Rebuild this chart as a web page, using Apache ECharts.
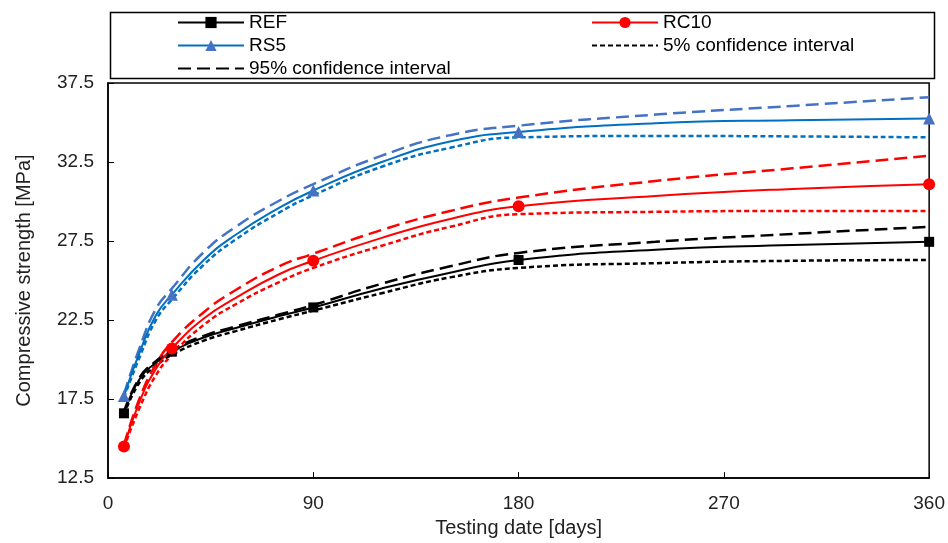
<!DOCTYPE html>
<html>
<head>
<meta charset="utf-8">
<script src="https://cdn.jsdelivr.net/npm/echarts@6/dist/echarts.min.js"></script>
<style>
html,body{margin:0;padding:0;background:#fff;}
#chart{width:948px;height:543px;}
</style>
</head>
<body>
<div id="chart"></div>
<script>
// ---- data ----
const days = [7, 14, 21, 28, 42, 56, 75, 90, 120, 150, 180, 240, 300, 360];
const testDays = [7, 28, 90, 180, 360];

const refMean = [16.6, 18.8, 19.8, 20.5, 21.4, 22.0, 22.75, 23.3, 24.5, 25.5, 26.3, 26.95, 27.25, 27.45];
const ref95   = [16.7, 18.9, 19.9, 20.6, 21.5, 22.1, 22.85, 23.45, 24.8, 25.9, 26.75, 27.45, 27.95, 28.4];
const ref5    = [16.5, 18.6, 19.6, 20.3, 21.2, 21.8, 22.55, 23.1, 24.2, 25.2, 25.8, 26.1, 26.25, 26.3];

const rc10Mean = [14.5, 17.4, 19.4, 20.7, 22.6, 23.9, 25.4, 26.25, 27.7, 28.9, 29.7, 30.35, 30.8, 31.1];
const rc1095   = [14.6, 17.6, 19.7, 21.1, 23.0, 24.4, 25.9, 26.7, 28.2, 29.4, 30.25, 31.3, 32.1, 32.9];
const rc105    = [14.4, 17.0, 19.0, 20.3, 22.2, 23.5, 24.9, 25.8, 27.2, 28.4, 29.2, 29.35, 29.4, 29.4];

const rs5Mean = [17.7, 20.5, 22.8, 24.1, 26.3, 27.9, 29.6, 30.7, 32.5, 33.8, 34.4, 34.95, 35.15, 35.25];
const rs595   = [17.8, 20.8, 23.2, 24.5, 26.8, 28.4, 30.05, 31.1, 32.9, 34.2, 34.8, 35.5, 36.05, 36.6];
const rs55    = [17.6, 20.2, 22.5, 23.8, 26.0, 27.6, 29.3, 30.4, 32.2, 33.4, 34.06, 34.15, 34.12, 34.06];

const xTicks = [0, 90, 180, 270, 360];
const yTicks = [12.5, 17.5, 22.5, 27.5, 32.5, 37.5];

const legendLeft = ['REF', 'RS5', '95% confidence interval'];
const legendRight = ['RC10', '5% confidence interval'];

// ---- build options ----
const BLACK = '#000000', RED = '#FF0000', BLUE = '#0070C0', BLUE2 = '#4472C4';
const DASH = [13, 6], DOT = [5, 3];

function pts(vals) { return days.map((d, i) => [d, vals[i]]); }
function markedPts(vals) {
  return days.map((d, i) => testDays.indexOf(d) >= 0 ? [d, vals[i]] : { value: [d, vals[i]], symbol: 'none' });
}
function mainSeries(name, vals, color, symbol, symbolSize, symColor) {
  return {
    name: name, type: 'line', data: markedPts(vals), smooth: 0.5,
    symbol: symbol, symbolSize: symbolSize, showSymbol: true, showAllSymbol: true,
    itemStyle: { color: symColor || color, borderWidth: 0 },
    lineStyle: { color: color, width: 2 }, z: 5
  };
}
function ciSeries(name, vals, color, type) {
  return {
    name: name, type: 'line', data: pts(vals), smooth: 0.5,
    symbol: 'none', itemStyle: { color: color },
    lineStyle: { color: color, width: 2.5, type: type }, z: 3
  };
}

const series = [
  ciSeries('REF 95%', ref95, BLACK, DASH),
  ciSeries('REF 5%', ref5, BLACK, DOT),
  ciSeries('RC10 95%', rc1095, RED, DASH),
  ciSeries('RC10 5%', rc105, RED, DOT),
  ciSeries('RS5 95%', rs595, BLUE2, DASH),
  ciSeries('RS5 5%', rs55, BLUE, DOT),
  mainSeries('REF', refMean, BLACK, 'rect', 10),
  mainSeries('RC10', rc10Mean, RED, 'circle', 12),
  mainSeries('RS5', rs5Mean, BLUE, 'triangle', 12, BLUE2),
  { name: '5% confidence interval', type: 'line', data: [], symbol: 'none',
    itemStyle: { color: BLACK }, lineStyle: { color: BLACK, width: 2.5, type: DOT } },
  { name: '95% confidence interval', type: 'line', data: [], symbol: 'none',
    itemStyle: { color: BLACK }, lineStyle: { color: BLACK, width: 2.5, type: DASH } }
];

const FONT = 'Liberation Sans, Arial, sans-serif';
const legendCommon = {
  orient: 'vertical', itemWidth: 66, itemHeight: 14, itemGap: 4,
  textStyle: { fontFamily: FONT, fontSize: 19, color: '#000' }, selectedMode: false
};
function legendItems(names) {
  return names.map(n => n.indexOf('confidence') >= 0
    ? { name: n, itemStyle: { color: 'rgba(0,0,0,0)', borderWidth: 0, opacity: 0 } }
    : { name: n });
}

const option = {
  animation: false,
  backgroundColor: '#fff',
  legend: [
    Object.assign({ data: legendItems(legendLeft), left: 172, top: 8 }, legendCommon),
    Object.assign({ data: legendItems(legendRight), left: 586, top: 8 }, legendCommon)
  ],
  graphic: [{
    type: 'rect', left: 108, top: 10, z: 0,
    shape: { width: 824, height: 66 },
    style: { fill: 'none', stroke: '#000', lineWidth: 1.5 }
  }],
  grid: { left: 108, right: 16, top: 83, bottom: 60, show: true, borderColor: '#000', borderWidth: 1.5 },
  xAxis: {
    type: 'value', min: xTicks[0], max: xTicks[xTicks.length - 1], interval: xTicks[1] - xTicks[0],
    name: 'Testing date [days]', nameLocation: 'middle', nameGap: 38,
    nameTextStyle: { fontFamily: FONT, fontSize: 20, color: '#222' },
    axisLine: { lineStyle: { color: '#000', width: 1.5 } },
    axisTick: { inside: true, length: 6, lineStyle: { color: '#000' } },
    axisLabel: { fontFamily: FONT, fontSize: 19, color: '#222', margin: 16 },
    splitLine: { show: false }
  },
  yAxis: {
    type: 'value', min: yTicks[0], max: yTicks[yTicks.length - 1], interval: yTicks[1] - yTicks[0],
    name: 'Compressive strength [MPa]', nameLocation: 'middle', nameGap: 74,
    nameTextStyle: { fontFamily: FONT, fontSize: 20, color: '#222' },
    axisLine: { lineStyle: { color: '#000', width: 1.5 } },
    axisTick: { inside: true, length: 6, lineStyle: { color: '#000' } },
    axisLabel: { fontFamily: FONT, fontSize: 19, color: '#222', margin: 14,
      formatter: v => v.toFixed(1) },
    splitLine: { show: false }
  },
  series: series
};

const chart = echarts.init(document.getElementById('chart'), null, { renderer: 'canvas' });
chart.setOption(option);
</script>
</body>
</html>
